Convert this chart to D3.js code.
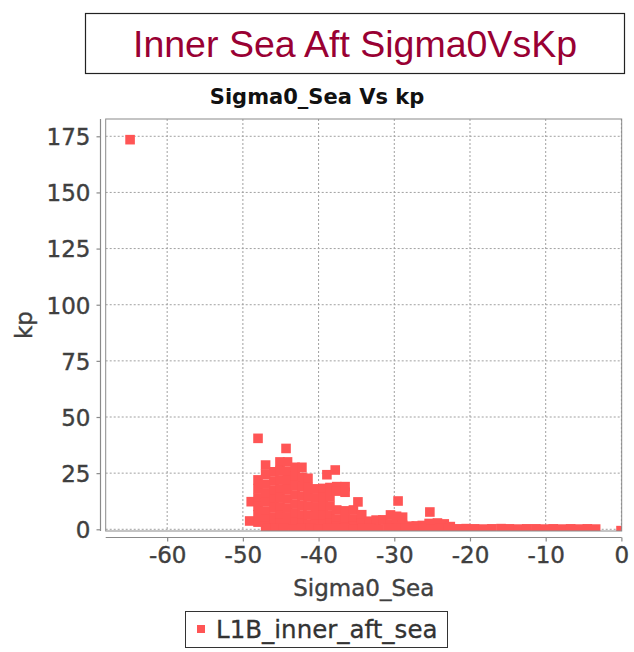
<!DOCTYPE html>
<html>
<head>
<meta charset="utf-8">
<script src="https://cdn.jsdelivr.net/npm/d3@7"></script>
<style>
  body { margin: 0; background: #fff; }
  svg { display: block; }
</style>
</head>
<body>
<div id="chart"></div>
<script>
// chart values
const xTicks = [-60, -50, -40, -30, -20, -10, 0]
const yTicks = [0, 25, 50, 75, 100, 125, 150, 175]

// isolated points
const outlierSigma0 = [-64.9, -48.0, -44.3, -38.9, -37.8, -34.8, -29.5, -25.3, -0.05]
const outlierKp     = [173.5, 40.5, 36.0, 24.3, 26.4, 12.2, 12.6, 7.7, -0.6]

// main cluster, column by column
const clusterSigma0 = [
  -49.1, -48.9,
  -48.0, -48.0, -48.0, -48.0, -48.0, -48.0,
  -47.0, -47.0, -47.0, -47.0, -47.0, -47.0, -47.0, -47.0,
  -45.9, -45.9, -45.9, -45.9, -45.9, -45.9, -45.9,
  -45.1, -45.1, -45.1, -45.1, -45.1, -45.1, -45.1, -45.1,
  -44.1, -44.1, -44.1, -44.1, -44.1, -44.1, -44.1, -44.1,
  -43.1, -43.1, -43.1, -43.1, -43.1, -43.1, -43.1,
  -42.2, -42.2, -42.2, -42.2, -42.2, -42.2, -42.2,
  -41.4, -41.4, -41.4, -41.4, -41.4, -41.4,
  -40.4, -40.4, -40.4, -40.4, -40.4,
  -39.4, -39.4, -39.4, -39.4, -39.4,
  -38.5, -38.5, -38.5, -38.5, -38.5,
  -37.6, -37.6, -37.6, -37.6, -37.6,
  -36.5, -36.5, -36.5, -36.5, -36.5,
  -35.4, -35.4, -35.4,
  -34.3, -34.3,
  -33.3, -32.4, -31.5,
  -30.5, -30.5,
  -29.7, -29.7,
  -28.9, -28.9,
  -28.0, -27.1, -26.3, -25.4, -24.3, -23.4, -22.6
]
const clusterKp = [
  3.7, 12.3,
  22.0, 18.1, 14.0, 10.2, 6.5, 3.2,
  28.6, 24.5, 20.1, 16.0, 12.2, 8.1, 4.5, 1.2,
  25.6, 21.5, 17.4, 13.5, 9.6, 5.5, 1.8,
  30.0, 26.1, 22.0, 18.0, 14.1, 10.0, 6.2, 2.5,
  30.0, 25.8, 21.7, 17.6, 13.5, 9.4, 5.3, 2.0,
  27.6, 23.5, 19.4, 15.3, 11.2, 7.1, 3.0,
  27.6, 23.2, 19.0, 14.8, 10.6, 6.4, 2.6,
  22.7, 18.6, 14.5, 10.4, 6.3, 2.2,
  18.0, 14.0, 10.0, 6.0, 2.4,
  18.2, 14.1, 10.1, 6.2, 2.3,
  18.6, 14.5, 10.4, 6.4, 2.5,
  19.0, 17.0, 8.6, 4.5, 1.2,
  19.0, 16.5, 8.2, 4.3, 1.1,
  8.6, 4.6, 1.2,
  6.5, 2.5,
  3.6, 4.1, 4.2,
  6.4, 2.4,
  5.8, 2.0,
  5.4, 1.8,
  1.4, 1.5, 1.7, 2.6, 2.8, 2.4, 1.2
]

// low values along the bottom
const floorSigma0 = [
  -46.8, -45.7, -44.6, -43.4, -42.3, -41.1, -40.0, -38.8, -37.7, -36.6,
  -35.4, -34.2, -33.1, -32.0, -30.8, -29.7, -28.5, -27.4, -26.2, -25.1,
  -24.0, -22.8, -21.6, -20.5, -19.4, -18.2, -17.1, -15.9, -14.8, -13.6,
  -12.5, -11.3, -10.2, -9.0, -7.9, -6.7, -5.6, -4.5, -3.4
]
const floorKp = [
  0.4, 0.3, 0.5, 0.2, 0.3, 0.4, 0.2, 0.3, 0.5, 0.3,
  0.2, 0.4, 0.3, 0.2, 0.3, 0.4, 0.3, 0.2, 0.3, 0.2,
  0.4, 0.3, 0.2, 0.3, 0.2, 0.1, 0.2, 0.3, 0.2, 0.1,
  0.2, 0.2, 0.1, 0.2, 0.1, 0.2, 0.1, 0.2, 0.1
]

const seriesName = 'L1B_inner_aft_sea'
const pageTitle = 'Inner Sea Aft Sigma0VsKp'
const chartTitle = 'Sigma0_Sea Vs kp'

const points = []
outlierSigma0.forEach((s, i) => points.push([s, outlierKp[i]]))
clusterSigma0.forEach((s, i) => points.push([s, clusterKp[i]]))
floorSigma0.forEach((s, i) => points.push([s, floorKp[i]]))

const W = 634, H = 652
const plot = {left: 105.7, right: 621.7, top: 119, bottom: 531}
const red = '#ff5555'
const labelColor = '#3f3f3f'
const font = '"DejaVu Sans", sans-serif'

const svg = d3.select('#chart').append('svg')
    .attr('width', W)
    .attr('height', H)

// boxed page title
svg.append('rect')
    .attr('x', 85.5).attr('y', 13.5)
    .attr('width', 539).attr('height', 60)
    .attr('fill', 'none')
    .attr('stroke', '#222')
    .attr('stroke-width', 1.2)

svg.append('text')
    .attr('x', 355).attr('y', 57)
    .attr('text-anchor', 'middle')
    .style('font-family', '"Liberation Sans", Arial, sans-serif')
    .style('font-size', '37.5px')
    .style('fill', '#990033')
    .text(pageTitle)

svg.append('text')
    .attr('x', 317).attr('y', 104)
    .attr('text-anchor', 'middle')
    .style('font-family', font)
    .style('font-weight', 'bold')
    .style('font-size', '21px')
    .style('fill', '#111')
    .text(chartTitle)

const x = d3.scaleLinear()
    .domain([-68.12, 0.04])
    .range([plot.left, plot.right])

const y = d3.scaleLinear()
    .domain([-0.76, 182.7])
    .range([plot.bottom, plot.top])

// grid
const grid = svg.append('g').attr('class', 'grid')
grid.selectAll('line.gx')
    .data(xTicks)
  .enter().append('line')
    .attr('class', 'gx')
    .attr('x1', d => x(d)).attr('x2', d => x(d))
    .attr('y1', plot.top).attr('y2', plot.bottom)
grid.selectAll('line.gy')
    .data(yTicks)
  .enter().append('line')
    .attr('class', 'gy')
    .attr('x1', plot.left).attr('x2', plot.right)
    .attr('y1', d => y(d)).attr('y2', d => y(d))
grid.selectAll('line')
    .attr('stroke', '#a0a0a0')
    .attr('stroke-width', 1)
    .attr('stroke-dasharray', '2,2')

// points, clipped to the plot
svg.append('clipPath').attr('id', 'clip')
  .append('rect')
    .attr('x', plot.left).attr('y', plot.top)
    .attr('width', plot.right - plot.left)
    .attr('height', plot.bottom - plot.top)

const size = 9.6
svg.append('g')
    .attr('clip-path', 'url(#clip)')
  .selectAll('rect')
    .data(points)
  .enter().append('rect')
    .attr('x', d => x(d[0]) - size / 2)
    .attr('y', d => y(d[1]) - size / 2)
    .attr('width', size)
    .attr('height', size)
    .attr('fill', red)

// plot outline
svg.append('rect')
    .attr('x', plot.left).attr('y', plot.top)
    .attr('width', plot.right - plot.left)
    .attr('height', plot.bottom - plot.top)
    .attr('fill', 'none')
    .attr('stroke', '#8a8a8a')
    .attr('stroke-width', 1)

// axes, offset from the plot like the original
const xAxis = svg.append('g')
    .attr('transform', 'translate(0,' + 537.5 + ')')
    .call(d3.axisBottom(x).tickValues(xTicks).tickSize(4).tickPadding(5)
      .tickFormat(d => String(d)))
xAxis.select('.domain').attr('d', 'M' + plot.left + ',0H' + plot.right)

const yAxis = svg.append('g')
    .attr('transform', 'translate(' + 100.5 + ',0)')
    .call(d3.axisLeft(y).tickValues(yTicks).tickSize(4).tickPadding(6)
      .tickFormat(d => String(d)))
yAxis.select('.domain').attr('d', 'M0,' + plot.top + 'V' + plot.bottom)

svg.selectAll('.domain, .tick line')
    .attr('stroke', '#8a8a8a')
    .attr('stroke-width', 1.2)
svg.selectAll('.tick text')
    .style('font-family', font)
    .style('font-size', '23px')
    .style('fill', labelColor)
    .style('stroke', labelColor)
    .style('stroke-width', 0.4)
yAxis.selectAll('.tick text').attr('dy', '0.36em')

// axis titles
svg.append('text')
    .attr('x', (plot.left + plot.right) / 2).attr('y', 596)
    .attr('text-anchor', 'middle')
    .style('font-family', font)
    .style('font-size', '23px')
    .style('fill', labelColor)
    .style('stroke', labelColor)
    .style('stroke-width', 0.4)
    .text('Sigma0_Sea')

svg.append('text')
    .attr('transform', 'translate(32,' + (plot.top + plot.bottom) / 2 + ') rotate(-90)')
    .attr('text-anchor', 'middle')
    .style('font-family', font)
    .style('font-size', '23px')
    .style('fill', labelColor)
    .style('stroke', labelColor)
    .style('stroke-width', 0.4)
    .text('kp')

// legend
const legend = svg.append('g')
legend.append('rect')
    .attr('x', 185.5).attr('y', 611.5)
    .attr('width', 262).attr('height', 36)
    .attr('fill', '#fff')
    .attr('stroke', '#333')
    .attr('stroke-width', 1)
legend.append('rect')
    .attr('x', 197).attr('y', 625)
    .attr('width', 8).attr('height', 8)
    .attr('fill', red)
legend.append('text')
    .attr('x', 216).attr('y', 638)
    .style('font-family', font)
    .style('font-size', '24.5px')
    .style('fill', '#333')
    .style('stroke', '#333')
    .style('stroke-width', 0.3)
    .text(seriesName)
</script>
</body>
</html>
